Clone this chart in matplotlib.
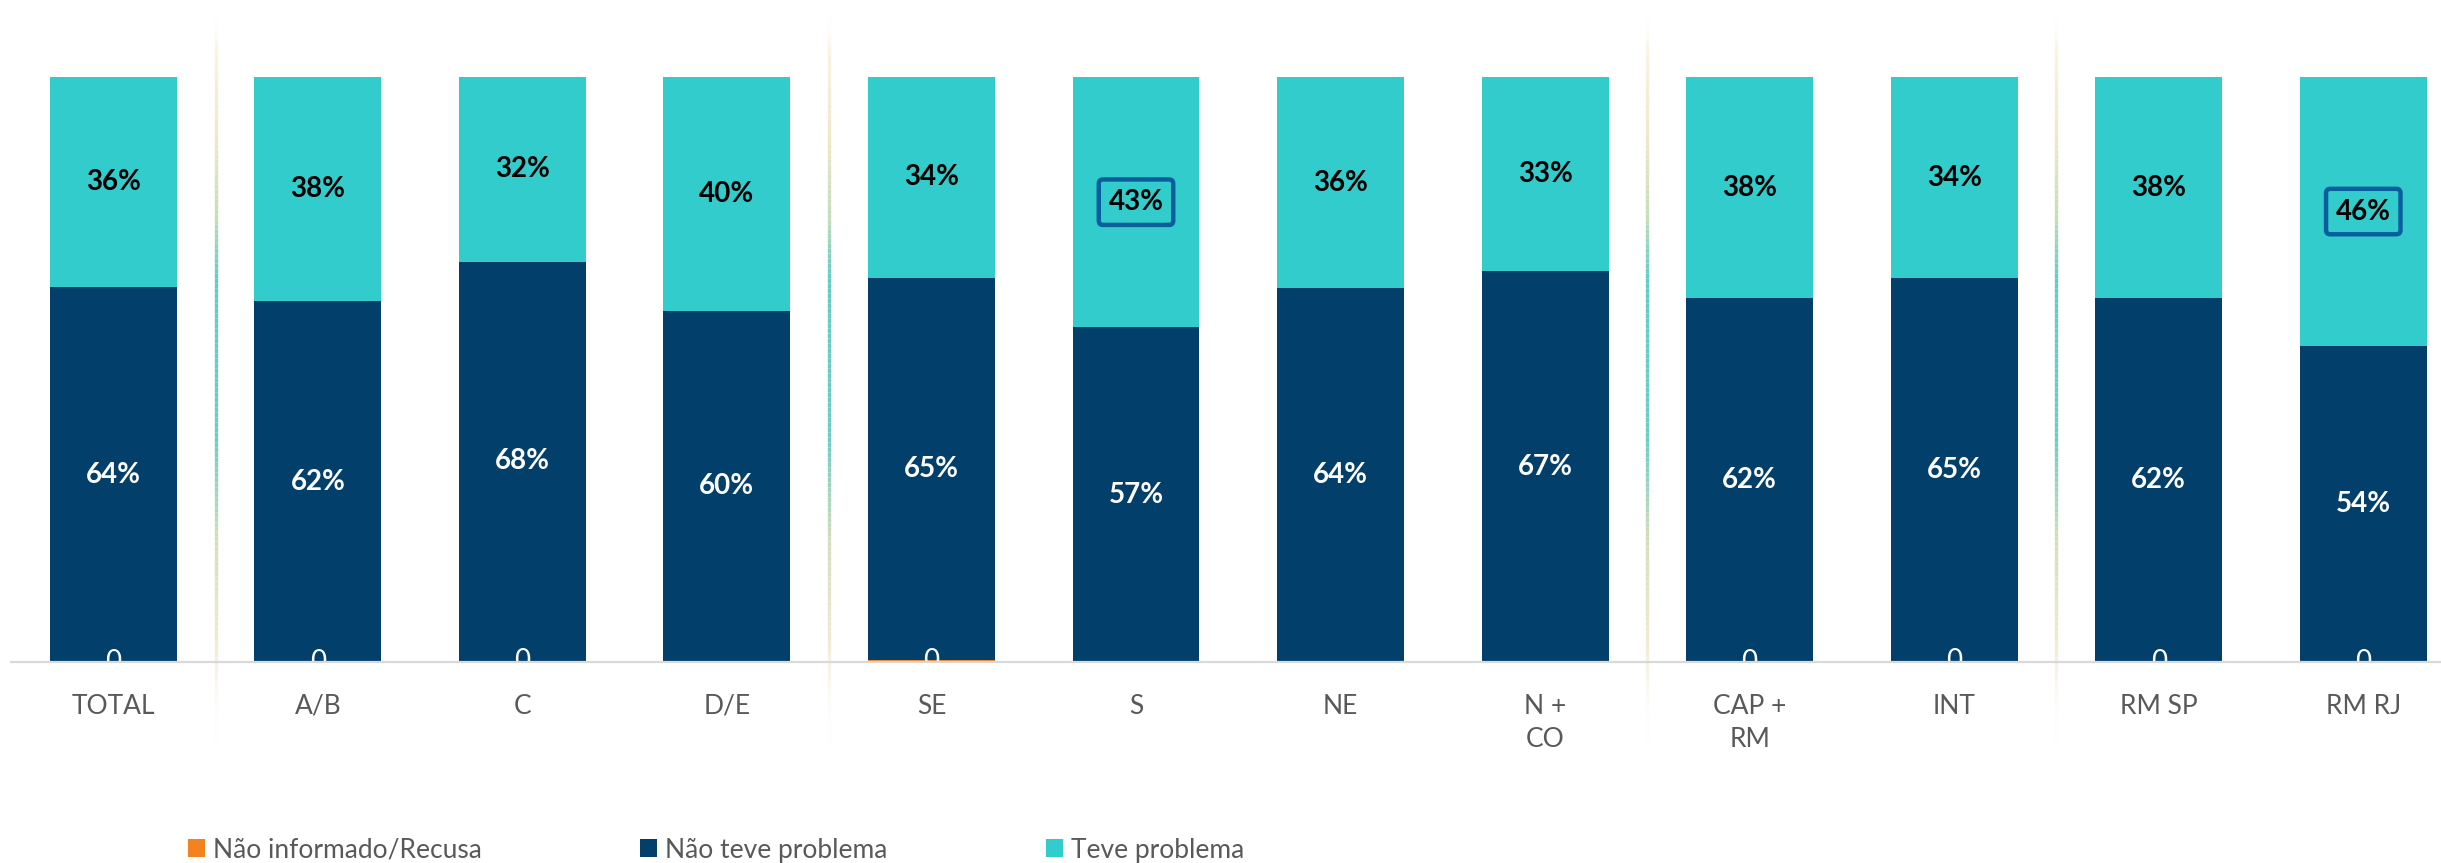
import matplotlib.pyplot as plt
import matplotlib.transforms as mtransforms
import numpy as np
from matplotlib.collections import LineCollection
from matplotlib.colors import LinearSegmentedColormap

# Dados (percentuais)
CATEGORIES = ["TOTAL", "A/B", "C", "D/E", "SE", "S", "NE", "N +\nCO",
              "CAP +\nRM", "INT", "RM SP", "RM RJ"]
NAO_INFORMADO = [0.0, 0.0, 0.2, np.nan, 0.3, np.nan, np.nan, np.nan,
                 0.0, 0.2, 0.0, 0.0]
NAO_TEVE = [64.1, 61.7, 68.2, 60.0, 65.4, 57.2, 63.9, 66.8, 62.2, 65.4, 62.2, 54.0]
TEVE = [35.9, 38.3, 31.6, 40.0, 34.3, 42.8, 36.1, 33.2, 37.8, 34.4, 37.8, 46.0]
HIGHLIGHT = ["S", "RM RJ"]
SEPARATORS_AFTER = ["TOTAL", "D/E", "N +\nCO", "INT"]

ORANGE = "#F58220"
NAVY = "#023F6B"
CYAN = "#33CCCC"
BOX = "#0B5E9E"
GREY_TXT = "#595959"

FONT = "Lato"
W, H, DPI = 2441, 863, 100


def main():
    fig = plt.figure(figsize=(W / DPI, H / DPI), dpi=DPI)
    ax = fig.add_axes([11 / W, (H - 662) / H, 2430 / W, (662 - 77) / H])
    ax.patch.set_visible(False)

    x = np.arange(len(CATEGORIES))
    ni = np.array(NAO_INFORMADO, dtype=float)
    base = np.nan_to_num(ni)
    nt = np.array(NAO_TEVE)
    tv = np.array(TEVE)
    width = 0.62

    b_ni = ax.bar(x, base, width, color=ORANGE, label="Não informado/Recusa")
    b_nt = ax.bar(x, nt, width, bottom=base, color=NAVY, label="Não teve problema")
    b_tv = ax.bar(x, tv, width, bottom=base + nt, color=CYAN, label="Teve problema")

    ni_labels = ["" if np.isnan(v) else f"{v:.0f}" for v in ni]
    for t in ax.bar_label(b_ni, labels=ni_labels, label_type="center",
                          color="white", fontsize=20, family=FONT):
        t.set_zorder(2)

    ax.bar_label(b_nt, labels=[f"{v:.0f}%" for v in nt], label_type="center",
                 color="white", fontsize=20, fontweight="bold", family=FONT)
    tv_txt = ax.bar_label(b_tv, labels=[f"{v:.0f}%" for v in tv], label_type="center",
                          color="black", fontsize=20, fontweight="bold", family=FONT)
    for i, cat in enumerate(CATEGORIES):
        if cat in HIGHLIGHT:
            tv_txt[i].set_bbox(dict(boxstyle="round,pad=0.35,rounding_size=0.15",
                                    fc="none", ec=BOX, lw=3.2))

    ax.set_xlim(-0.5, 11.38)
    ax.set_ylim(0, 100)
    ax.set_yticks([])
    ax.set_xticks(x, CATEGORIES)
    ax.tick_params(axis="x", length=0, pad=23, labelsize=19, labelcolor=GREY_TXT)
    for t in ax.get_xticklabels():
        t.set_family(FONT)
        t.set_linespacing(1.4)
    for side in ["top", "left", "right"]:
        ax.spines[side].set_visible(False)
    ax.spines["bottom"].set_color("#D9D9D9")
    ax.spines["bottom"].set_linewidth(1.6)

    # separadores verticais com degradê
    cmap = LinearSegmentedColormap.from_list("sep", [
        (0.00, (1, 1, 1, 0)),
        (0.05, "#FAF3E0"),
        (0.18, "#EDE6C6"),
        (0.28, "#BFDDB6"),
        (0.36, "#5FCCC6"),
        (0.58, "#6ACDC3"),
        (0.72, "#D5DDB8"),
        (0.86, "#F1EBD2"),
        (1.00, (1, 1, 1, 0)),
    ])
    trans = mtransforms.blended_transform_factory(ax.transData, fig.transFigure)
    ys = np.linspace((H - 10) / H, (H - 750) / H, 150)
    for cat in SEPARATORS_AFTER:
        xs = CATEGORIES.index(cat) + 0.5
        segs = [[(xs, ys[k]), (xs, ys[k + 1])] for k in range(len(ys) - 1)]
        lc = LineCollection(segs, cmap=cmap, linewidths=2.4, transform=trans,
                            clip_on=False, zorder=0.5)
        lc.set_array(np.linspace(0, 1, len(segs)))
        ax.add_collection(lc, autolim=False)

    fig.legend(handles=[b_ni, b_nt, b_tv], loc="center left",
               bbox_to_anchor=(188 / W, (H - 850) / H), ncol=3, frameon=False,
               prop={"family": FONT, "size": 19}, labelcolor=GREY_TXT,
               handlelength=0.65, handleheight=0.65, handletextpad=0.3,
               columnspacing=6.0, borderpad=0, borderaxespad=0)

    fig.savefig("out.png", dpi=DPI)
    plt.close(fig)


if __name__ == "__main__":
    main()
